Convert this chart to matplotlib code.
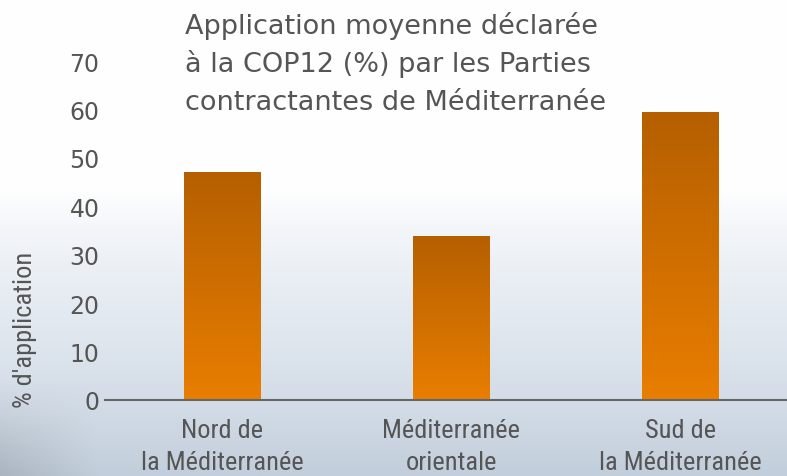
import matplotlib.pyplot as plt
import numpy as np
from matplotlib.colors import LinearSegmentedColormap

# data
regions = ['Nord de\nla Méditerranée', 'Méditerranée\norientale', 'Sud de\nla Méditerranée']
values = [47.0, 33.8, 59.3]
yticks = [0, 10, 20, 30, 40, 50, 60, 70]
title_lines = ['Application moyenne déclarée',
               'à la COP12 (%) par les Parties',
               'contractantes de Méditerranée']

grey = '#555555'
cond = ['Roboto Condensed', 'DejaVu Sans Condensed', 'Liberation Sans Narrow', 'Roboto', 'DejaVu Sans']

fig = plt.figure(figsize=(7.87, 4.77), dpi=100)

# sky-like background
bg = fig.add_axes([0, 0, 1, 1])
bg.set_axis_off()
yy = np.linspace(0, 1, 200)[:, None]
xx = np.linspace(0, 1, 300)[None, :]
sky = LinearSegmentedColormap.from_list('sky', [(0, '#ffffff'), (0.4, '#fefefe'),
                                                (0.5, '#f1f4f8'), (0.7, '#e0e7ef'),
                                                (0.88, '#d0dae5'), (1, '#c2cedb')])
img = sky(yy * np.ones_like(xx))
shade = np.clip((yy - 0.8) * 5, 0, 1) * np.clip(1 - xx * 8, 0, 1) * 0.12
img[..., :3] = img[..., :3] * (1 - shade[..., None])
bg.imshow(img, aspect='auto', extent=[0, 1, 1, 0])
bg.set_xlim(0, 1)
bg.set_ylim(1, 0)

ax = fig.add_axes([105 / 787, 76 / 477, 682 / 787, 339 / 477])
ax.patch.set_alpha(0)
x = np.arange(len(values))
bars = ax.bar(x, values, width=0.336, color='none')

bar_cmap = LinearSegmentedColormap.from_list('bar', ['#e97e00', '#b55f00'])
grad = np.linspace(0, 1, 256)[:, None]
for b in bars:
    x0, w, h = b.get_x(), b.get_width(), b.get_height()
    ax.imshow(grad, cmap=bar_cmap, aspect='auto', origin='lower',
              extent=[x0, x0 + w, 0, h], zorder=2)

ax.set_xlim(-0.511, 2.465)
ax.set_ylim(0, 70)

for s in ['top', 'right', 'left']:
    ax.spines[s].set_visible(False)
ax.spines['bottom'].set_color('#666666')
ax.spines['bottom'].set_linewidth(1.5)
ax.spines['bottom'].set_zorder(3)

ax.set_yticks(yticks)
ax.set_yticklabels([str(t) for t in yticks], fontsize=17, color=grey)
ax.tick_params(axis='y', length=0, pad=4)
ax.set_xticks(x)
ax.set_xticklabels(regions, family=cond, stretch='condensed', fontsize=19,
                   color=grey, linespacing=1.4)
ax.tick_params(axis='x', length=0, pad=13)

fig.text(25 / 787, 1 - 330 / 477, "% d'application", rotation=90, ha='center', va='center',
         family=cond, stretch='condensed', fontsize=19, color=grey)

for i, line in enumerate(title_lines):
    fig.text(185 / 787, 1 - (34 + 38 * i) / 477, line, ha='left', va='baseline',
             fontsize=19.5, color=grey)

fig.savefig('out.png', dpi=100)
